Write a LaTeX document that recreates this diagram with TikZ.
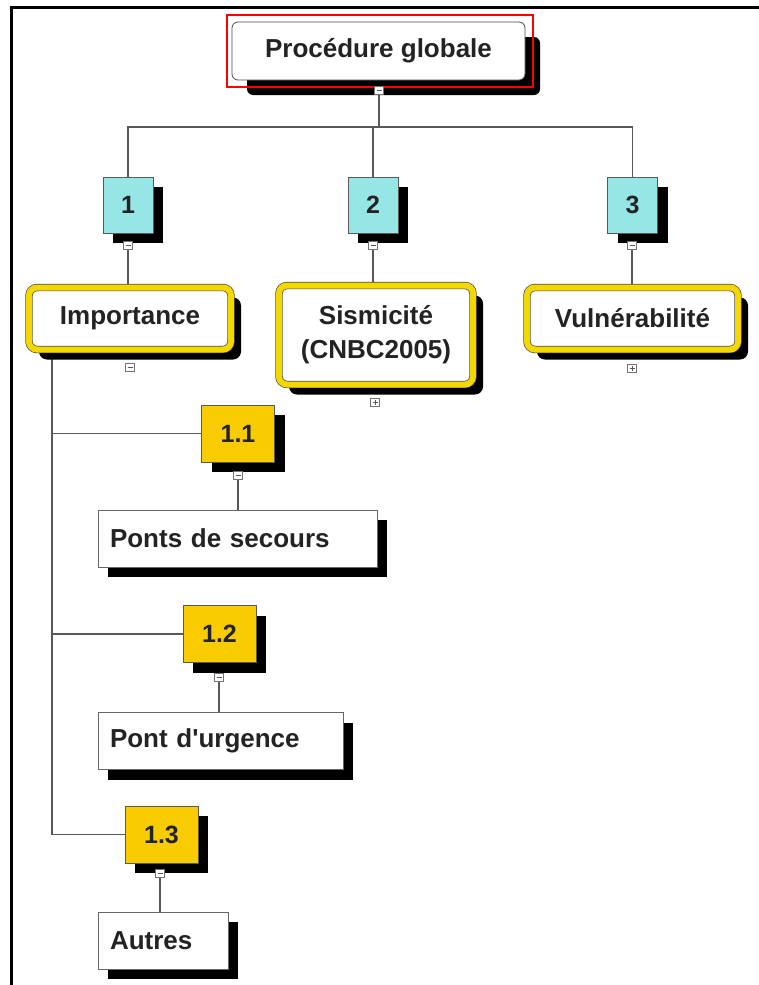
\documentclass[tikz,border=0pt]{standalone}
\usepackage{fontspec}
\newfontfamily\lib{Liberation Sans}
\usetikzlibrary{shadows}
\definecolor{cyanbox}{RGB}{150,230,230}
\definecolor{goldbox}{RGB}{248,204,0}
\definecolor{yelline}{RGB}{245,215,0}
\definecolor{txt}{RGB}{35,35,35}
\pgfdeclarelayer{bg}
\pgfsetlayers{bg,main}
\begin{document}
\begin{tikzpicture}[x=1pt,y=-1pt,
  every node/.style={font=\lib\bfseries\fontsize{26}{34}\selectfont, text=txt},
  shad/.style={drop shadow={shadow xshift=#1, shadow yshift=-#1, fill=black, opacity=1}},
  topbox/.style={draw=black!70, line width=0.8pt, fill=white, rounded corners=6pt,
    minimum width=293pt, minimum height=58pt, inner sep=0pt, shad=15pt},
  numbox/.style={draw=black!65, line width=0.8pt, fill=cyanbox, minimum width=50pt,
    minimum height=56pt, inner sep=0pt, shad=10pt, font=\lib\bfseries\fontsize{25}{30}\selectfont},
  subnum/.style={numbox, fill=goldbox, minimum width=73pt, minimum height=57pt},
  yelbox/.style={draw=black!70, line width=0.7pt, double=yelline, double distance=6pt,
    fill=white, rounded corners=8pt, inner sep=0pt, align=center, shad=10pt},
  plainbox/.style={draw=black!60, line width=0.8pt, fill=white, minimum height=57pt,
    inner xsep=12pt, inner ysep=0pt, align=left, shad=10pt},
  marker/.style={draw=black!55, fill=white, line width=0.6pt, minimum width=9pt,
    minimum height=8pt, inner sep=0pt,
    path picture={\draw[black!65,line width=0.7pt]
      ([xshift=-2.5pt]path picture bounding box.center) --
      ([xshift=2.5pt]path picture bounding box.center);}},
  selbox/.style={draw=red, line width=1.2pt, minimum width=306pt, minimum height=72pt, inner sep=0pt},
  conn/.style={draw=black!65, line width=1.2pt}
]
\begin{pgfonlayer}{bg}
\fill[white] (0,0) rectangle (759,985);
\end{pgfonlayer}
\useasboundingbox (0,0) rectangle (759,985);
\draw[line width=3pt] (759,7) -- (11,7) -- (11,985);

% top
\node[topbox] (top) at (378.5,51) {Procédure globale};
\node[selbox] (sel) at (380,51) {};
\node[marker] (m0) at (379,90) {};

% level 1 numbers
\node[numbox] (n1) at (128,205) {1};
\node[numbox] (n2) at (373,205) {2};
\node[numbox] (n3) at (632.5,205) {3};
\node[marker] (mn1) at (128,245) {};
\node[marker] (mn2) at (373,245) {};
\node[marker] (mn3) at (632,245) {};

% level 1 boxes
\node[yelbox, minimum width=202pt, minimum height=62pt] (imp) at (130,318.5) {Importance};
\node[yelbox, minimum width=194pt, minimum height=99pt] (sis) at (376,335) {Sismicité\\(CNBC2005)};
\node[yelbox, minimum width=211pt, minimum height=62pt] (vul) at (632.5,318.5) {Vulnérabilité};
\node[marker] (mi) at (130,367) {};
\node[marker] (ms) at (375,402) {};
\draw[black!65,line width=0.7pt] ([yshift=-2.5pt]ms.center) -- ([yshift=2.5pt]ms.center);
\node[marker] (mv) at (632,368) {};
\draw[black!65,line width=0.7pt] ([yshift=-2.5pt]mv.center) -- ([yshift=2.5pt]mv.center);

% level 2 numbers
\node[subnum] (n11) at (238,433.5) {1.1};
\node[subnum] (n12) at (219.5,634) {1.2};
\node[subnum] (n13) at (161.5,834.5) {1.3};
\node[marker] (m11) at (238,475) {};
\node[marker] (m12) at (219,677) {};
\node[marker] (m13) at (160,873) {};

% level 2 boxes
\node[plainbox, text width=255pt] (p1) at (237.5,538.5) {Ponts de secours};
\node[plainbox, text width=221pt] (p2) at (220.5,741) {Pont d'urgence};
\node[plainbox, text width=106pt] (p3) at (163,940.5) {Autres};

% connectors
\coordinate (hb) at (379,127);
\coordinate (tx) at (52,0);
\begin{pgfonlayer}{bg}
\draw[conn] (m0.south) -- (hb);
\draw[conn] (n1.north) -- (n1.north |- hb) -- (n3.north |- hb) -- (n3.north);
\draw[conn] (n2.north) -- (n2.north |- hb);
\draw[conn] (mn1.south) -- (mn1.south |- imp.north);
\draw[conn] (mn2.south) -- (mn2.south |- sis.north);
\draw[conn] (mn3.south) -- (mn3.south |- vul.north);
\draw[conn] (imp.south -| tx) |- (n13.west);
\draw[conn] (n11.west -| tx) -- (n11.west);
\draw[conn] (n12.west -| tx) -- (n12.west);
\draw[conn] (m11.south) -- (m11.south |- p1.north);
\draw[conn] (m12.south) -- (m12.south |- p2.north);
\draw[conn] (m13.south) -- (m13.south |- p3.north);
\end{pgfonlayer}
\end{tikzpicture}
\end{document}
